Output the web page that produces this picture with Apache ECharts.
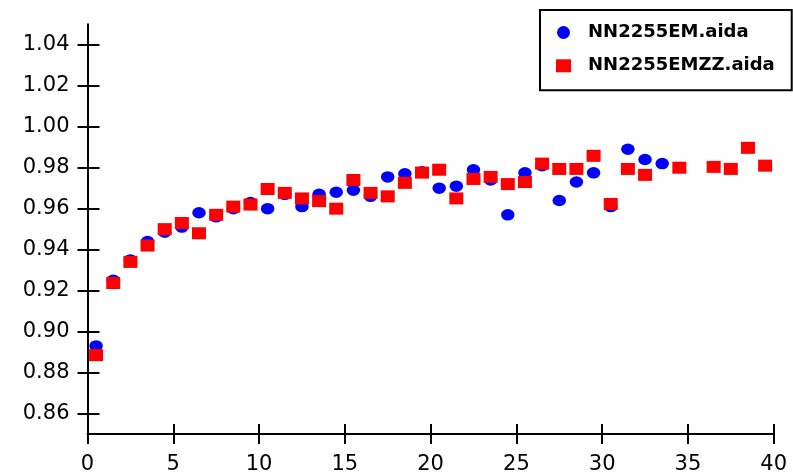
<!DOCTYPE html>
<html>
<head>
<meta charset="utf-8">
<script src="https://cdn.jsdelivr.net/npm/echarts@6/dist/echarts.min.js"></script>
<style>
html,body{margin:0;padding:0;background:#fff;}
#chart{width:793px;height:475px;}
</style>
</head>
<body>
<div id="chart"></div>
<script>
var seriesNames = ['NN2255EM.aida', 'NN2255EMZZ.aida'];
var xValues = [0.5,1.5,2.5,3.5,4.5,5.5,6.5,7.5,8.5,9.5,10.5,11.5,12.5,13.5,14.5,15.5,16.5,17.5,18.5,19.5,
               20.5,21.5,22.5,23.5,24.5,25.5,26.5,27.5,28.5,29.5,30.5,31.5,32.5,33.5,34.5,35.5,36.5,37.5,38.5,39.5];
var emValues = [0.893,0.925,0.935,0.944,0.9485,0.951,0.958,0.956,0.960,0.963,
                0.960,0.967,0.961,0.967,0.968,0.969,0.966,0.9755,0.977,0.978,
                0.970,0.971,0.979,0.974,0.957,0.9775,0.981,0.964,0.973,0.9775,
                0.961,0.989,0.984,0.982,null,null,null,null,null,null];
var emzzValues = [0.8885,0.9237,0.934,0.942,0.950,0.953,0.948,0.957,0.961,0.962,
                  0.9696,0.9677,0.965,0.9637,0.960,0.974,0.9677,0.966,0.9726,0.9776,
                  0.979,0.965,0.9745,0.9755,0.972,0.973,0.982,0.9794,0.9794,0.9858,
                  0.9623,0.9794,0.9765,null,0.980,null,0.9804,0.9794,0.9897,0.981];
var yTickValues = [0.86,0.88,0.90,0.92,0.94,0.96,0.98,1.00,1.02,1.04];

function pairs(vals){
  var out = [];
  for (var i = 0; i < xValues.length; i++) {
    if (vals[i] !== null) out.push([xValues[i], vals[i]]);
  }
  return out;
}

var chart = echarts.init(document.getElementById('chart'), null, {renderer:'canvas'});
var axisFont = {fontFamily:'DejaVu Sans', fontSize:21, color:'#000'};
var lineStyle = {color:'#000', width:2};
chart.setOption({
  animation:false,
  backgroundColor:'#fff',
  grid:{left:87.5, right:19.3, top:24.3, bottom:40.7, containLabel:false},
  legend:{
    orient:'vertical', left:540, top:10,
    backgroundColor:'#fff', borderColor:'#000', borderWidth:2,
    padding:[12.5,17,14.5,16],
    itemWidth:15, itemHeight:13, itemGap:13.3, symbolKeepAspect:false,
    textStyle:{fontFamily:'DejaVu Sans', fontWeight:'bold', fontSize:18, color:'#000', lineHeight:20, padding:[0,0,0,12]},
    data:[{name:seriesNames[0], icon:'circle'},{name:seriesNames[1], icon:'rect'}]
  },
  xAxis:[
    {type:'value', position:'bottom', min:0, max:40, interval:5,
     axisLine:{show:true, onZero:false, lineStyle:lineStyle},
     axisTick:{show:true, inside:false, length:10, lineStyle:lineStyle},
     axisLabel:Object.assign({margin:20}, axisFont),
     splitLine:{show:false}},
    {type:'value', position:'bottom', offset:-10, min:0, max:40, interval:5,
     axisLine:{show:false, onZero:false},
     axisTick:{show:true, inside:false, length:10, lineStyle:lineStyle},
     axisLabel:{show:false}, splitLine:{show:false}}
  ],
  yAxis:[
    {type:'value', position:'left', min:0.85, max:1.05,
     axisLine:{show:true, onZero:false, lineStyle:lineStyle},
     axisTick:{show:true, inside:false, length:10, lineStyle:lineStyle, customValues:yTickValues},
     axisLabel:Object.assign({margin:18, customValues:yTickValues,
       formatter:function(v){return v.toFixed(2);}}, axisFont),
     splitLine:{show:false}},
    {type:'value', position:'left', offset:-12, min:0.85, max:1.05,
     axisLine:{show:false, onZero:false},
     axisTick:{show:true, inside:false, length:12, lineStyle:lineStyle, customValues:yTickValues},
     axisLabel:{show:false, customValues:yTickValues}, splitLine:{show:false}}
  ],
  series:[
    {name:seriesNames[0], type:'scatter', xAxisIndex:0, yAxisIndex:0,
     symbol:'circle', symbolSize:[13.5,11.5], itemStyle:{color:'#0000ff', opacity:1},
     data:pairs(emValues)},
    {name:seriesNames[1], type:'scatter', xAxisIndex:0, yAxisIndex:0,
     symbol:'rect', symbolSize:[14,12], itemStyle:{color:'#ff0000', opacity:1},
     data:pairs(emzzValues)}
  ]
});
</script>
</body>
</html>
